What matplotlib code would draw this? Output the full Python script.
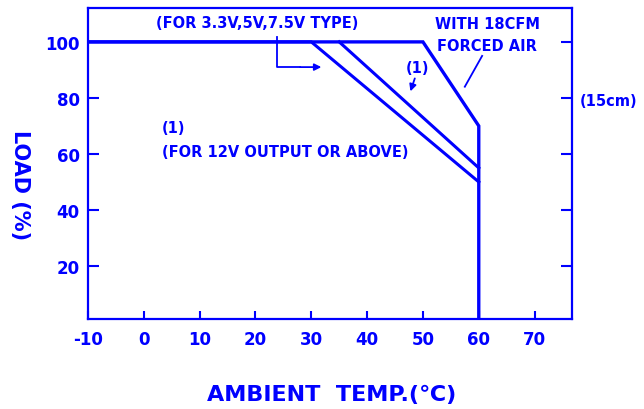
import matplotlib
matplotlib.use("Agg")
import matplotlib.pyplot as plt

# Data
temp_std = [-10, 30, 60]
load_std = [100, 100, 50]
temp_12v = [35, 60]
load_12v = [100, 55]
temp_air = [-10, 50, 60, 60]
load_air = [100, 100, 70, 0]

x_ticks = [-10, 0, 10, 20, 30, 40, 50, 60, 70]
y_ticks = [20, 40, 60, 80, 100]

BLUE = '#0000ff'

fig = plt.figure(figsize=(6.44, 4.10), dpi=100)
ax = fig.add_axes([88/644, 1-320/410, (572-88)/644, (320-9)/410])

ax.plot(temp_air, load_air, color=BLUE, lw=2.4, solid_joinstyle='miter')
ax.plot(temp_std, load_std, color=BLUE, lw=2.2, solid_joinstyle='miter')
ax.plot(temp_12v, load_12v, color=BLUE, lw=2.2)

ax.set_xlim(-10, 76.7)
ax.set_ylim(1.07, 112.1)

for s in ax.spines.values():
    s.set_color(BLUE)
    s.set_linewidth(1.6)

ax.set_xticks(x_ticks)
ax.set_yticks(y_ticks)
ax.set_xticklabels([str(v) for v in x_ticks], fontsize=12, fontweight='bold', color=BLUE)
ax.set_yticklabels([str(v) for v in y_ticks], fontsize=12, fontweight='bold', color=BLUE)
ax.tick_params(axis='x', direction='in', length=6, width=1.5, color=BLUE, pad=8, top=False)
ax.tick_params(axis='y', direction='in', length=8, width=1.5, color=BLUE, pad=6, right=True)

fig.text(332/644, 1-395/410, 'AMBIENT  TEMP.(\u2103)', ha='center', va='center',
         fontsize=16, fontweight='bold', color=BLUE)
fig.text(20/644, 1-185/410, 'LOAD (%)', ha='center', va='center', rotation=-90,
         fontsize=15, fontweight='bold', color=BLUE)

tkw = dict(color=BLUE, fontsize=10.5, fontweight='bold', family='DejaVu Sans')
ax.text(20.3, 106.8, '(FOR 3.3V,5V,7.5V TYPE)', ha='center', va='center', **tkw)
ax.text(61.5, 106.4, 'WITH 18CFM', ha='center', va='center', **tkw)
ax.text(61.5, 98.6, 'FORCED AIR', ha='center', va='center', **tkw)
ax.text(49.1, 91.0, '(1)', ha='center', va='center', **tkw)
ax.text(3.3, 69.6, '(1)', ha='left', va='center', **tkw)
ax.text(3.3, 61.0, '(FOR 12V OUTPUT OR ABOVE)', ha='left', va='center', **tkw)
ax.text(78.1, 79.0, '(15cm)', ha='left', va='center', clip_on=False, **tkw)

# leader lines / arrows
ax.plot([23.8, 23.8, 28.0], [101.8, 91.0, 91.0], color=BLUE, lw=1.3)
ax.annotate('', xy=(32.3, 91.0), xytext=(27.5, 91.0),
            arrowprops=dict(arrowstyle='-|>', color=BLUE, lw=1.3, mutation_scale=10))
ax.annotate('', xy=(47.6, 81.4), xytext=(48.7, 87.9),
            arrowprops=dict(arrowstyle='-|>', color=BLUE, lw=1.3, mutation_scale=10))
ax.plot([60.6, 57.5], [95.0, 84.0], color=BLUE, lw=1.3)

fig.savefig('out.png', dpi=100)
